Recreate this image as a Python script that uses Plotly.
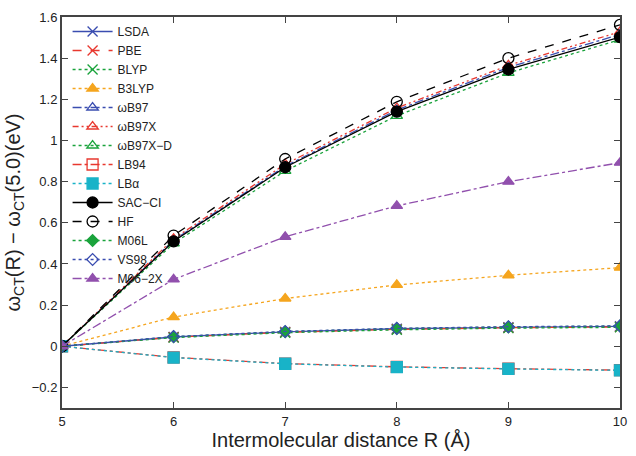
import plotly.graph_objects as go

R = [5, 6, 7, 8, 9, 10]

names = ["LSDA", "PBE", "BLYP", "B3LYP", "ωB97", "ωB97X", "ωB97X−D", "LB94", "LBα",
         "SAC−CI", "HF", "M06L", "VS98", "M06−2X"]

lsda = [0, 0.045, 0.070, 0.085, 0.092, 0.097]
pbe = [0, 0.044, 0.068, 0.082, 0.090, 0.094]
blyp = [0, 0.042, 0.066, 0.080, 0.088, 0.092]
b3lyp = [0, 0.142, 0.232, 0.298, 0.345, 0.382]
wb97 = [0, 0.515, 0.875, 1.148, 1.355, 1.515]
wb97x = [0, 0.522, 0.885, 1.158, 1.365, 1.528]
wb97xd = [0, 0.500, 0.852, 1.120, 1.328, 1.490]
lb94 = [0, -0.054, -0.084, -0.100, -0.109, -0.116]
lba = [0, -0.055, -0.085, -0.101, -0.110, -0.117]
sacci = [0, 0.510, 0.870, 1.140, 1.345, 1.502]
hf = [0, 0.538, 0.910, 1.188, 1.400, 1.562]
m06l = [0, 0.046, 0.071, 0.086, 0.094, 0.098]
vs98 = [0, 0.047, 0.072, 0.087, 0.095, 0.099]
m062x = [0, 0.325, 0.532, 0.682, 0.800, 0.892]

series = [lsda, pbe, blyp, b3lyp, wb97, wb97x, wb97xd, lb94, lba, sacci, hf, m06l, vs98, m062x]

BLUE = "#3a4db0"
RED = "#e8382f"
GREEN = "#1aa33c"
ORANGE = "#f5a51e"
CYAN = "#18b3c8"
PURPLE = "#9150ad"
BLACK = "#000000"

styles = [
    (BLUE, "solid", "x-thin-open", 10),
    (RED, "dash", "x-thin-open", 10),
    (GREEN, "dot", "x-thin-open", 10),
    (ORANGE, "dot", "triangle-up", 10),
    (BLUE, "dashdot", "triangle-up-open", 10),
    (RED, "6px,3px,2px,3px,2px,3px", "triangle-up-open", 10),
    (GREEN, "dot", "triangle-up-open", 10),
    (RED, "dashdot", "square-open", 11),
    (CYAN, "dot", "square", 11),
    (BLACK, "solid", "circle", 11),
    (BLACK, "dash", "circle-open", 11),
    (GREEN, "dot", "diamond", 9),
    (BLUE, "dot", "diamond-open", 9),
    (PURPLE, "dashdot", "triangle-up", 10),
]

fig = go.Figure()
for name, ys, (c, dash, sym, size) in zip(names, series, styles):
    fig.add_trace(go.Scatter(
        x=R, y=ys, name=name, mode="lines+markers",
        line=dict(color=c, dash=dash, width=1.3),
        marker=dict(symbol=sym, size=size, color=c,
                    line=dict(color=c, width=1.3)),
    ))

axis_common = dict(
    showgrid=False, zeroline=False, showline=True, mirror="ticks",
    linecolor="#444444", linewidth=2, ticks="inside", ticklen=6,
    tickcolor="#444444", tickfont=dict(size=13, color="#222222"),
)

fig.update_layout(
    width=636, height=456,
    margin=dict(l=62, r=9, t=17, b=42),
    paper_bgcolor="white", plot_bgcolor="white",
    font=dict(family="Liberation Sans, Arial, sans-serif", color="#222222"),
    xaxis=dict(range=[5, 10], dtick=1, title=dict(text="Intermolecular distance R (Å)",
               font=dict(size=20), standoff=4), **axis_common),
    yaxis=dict(range=[-0.3, 1.6], tickvals=[-0.2, 0, 0.2, 0.4, 0.6, 0.8, 1, 1.2, 1.4, 1.6],
               ticktext=["−0.2", "0", "0.2", "0.4", "0.6", "0.8", "1", "1.2", "1.4", "1.6"],
               title=dict(text="ω<sub>CT</sub>(R) − ω<sub>CT</sub>(5.0)(eV)", font=dict(size=20),
                          standoff=6), **axis_common),
    legend=dict(x=0.01, y=1.0, xanchor="left", yanchor="top", bgcolor="rgba(255,255,255,0)",
                font=dict(size=12), tracegroupgap=0, itemwidth=40),
    showlegend=True,
)

fig.write_html("out.html")
